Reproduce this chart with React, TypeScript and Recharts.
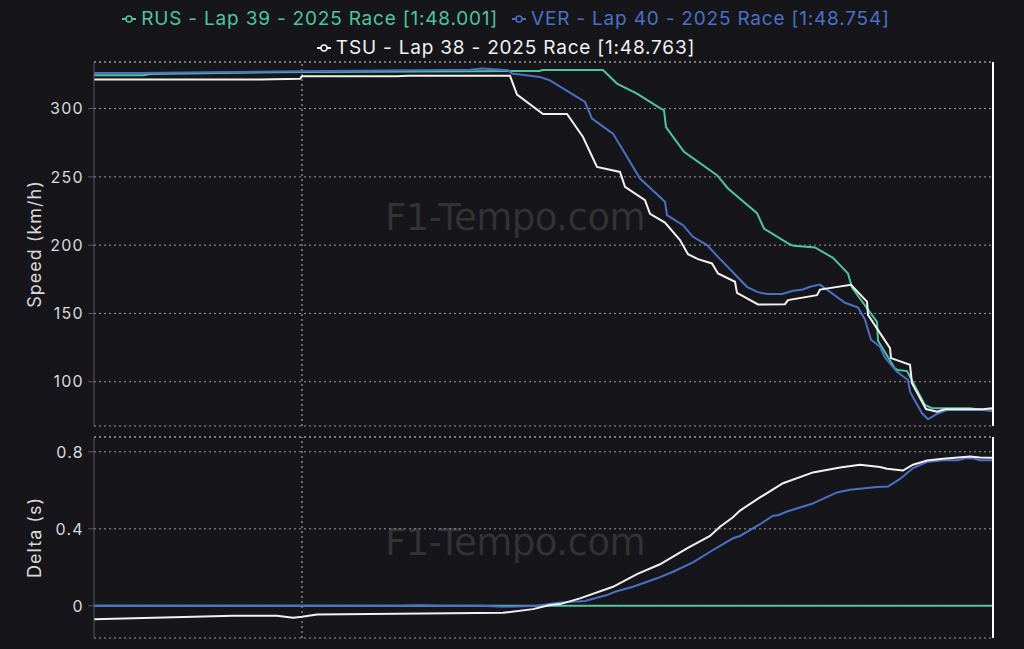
import { LineChart, Line, XAxis, YAxis, CartesianGrid, ReferenceLine } from "recharts";

const BG = "#16161a";
const GRID = "#9a9a9a";
const AXIS = "#56565a";
const TEXT = "#d9d9d9";

const RUS_COLOR = "#4fc49e";
const VER_COLOR = "#4a70c8";
const TSU_COLOR = "#f2f2f2";

// distance in metres along this section
const END_DIST = 899;
const MARKER_DIST = 208;

const rusDist = [0, 49, 56, 206, 386, 446, 448, 509, 523, 543, 566, 570, 572, 590, 623, 634, 663, 670, 696, 700, 721, 739, 746, 754, 758, 783, 784, 801, 804, 813, 831, 838, 876, 889, 899];
const rusSpeed = [324.4, 324.4, 325.3, 326.8, 327.4, 327.5, 328.2, 328.2, 318.3, 311, 300.4, 298.8, 286.5, 268.3, 251.2, 241.5, 223.4, 212.2, 200.5, 199.5, 198.3, 190.7, 185.4, 179.3, 168.9, 143.9, 130, 109.5, 108.6, 107.8, 83, 80.6, 80.6, 79.3, 78.8];

const verDist = [0, 46, 206, 376, 388, 414, 418, 446, 456, 491, 498, 519, 528, 546, 571, 573, 589, 599, 613, 624, 653, 663, 673, 688, 699, 709, 716, 726, 738, 751, 764, 771, 777, 786, 791, 803, 814, 816, 828, 834, 843, 853, 899];
const verSpeed = [326, 326, 327.3, 328.5, 329.3, 328, 325.6, 323.1, 320.7, 304.8, 292.7, 281.7, 270.7, 248.8, 231.7, 222, 214.6, 206.1, 200, 191.4, 169.5, 165.8, 164.2, 164.2, 166.6, 167.6, 169.5, 171.1, 164.7, 157.8, 154.3, 145.5, 130.8, 125.6, 117.6, 107.3, 101.3, 92.7, 76.9, 72.5, 76.5, 79.3, 79.3];

const tsuDist = [0, 166, 206, 208, 303, 314, 416, 423, 449, 473, 489, 503, 526, 531, 551, 556, 571, 586, 594, 604, 618, 624, 641, 643, 664, 691, 694, 723, 726, 757, 773, 774, 796, 797, 816, 818, 832, 843, 851, 889, 898];
const tsuSpeed = [321.2, 321.2, 321.9, 323.6, 323.6, 324.1, 324, 310.2, 296, 296, 279.2, 257.3, 253.6, 242.7, 232.9, 223, 216.5, 203.7, 193.4, 189.8, 186.6, 179.3, 173.2, 165.1, 156.6, 156.8, 159.8, 163.4, 167.5, 171, 158.7, 149, 124.6, 117.3, 112.4, 99, 80, 78.1, 79.8, 79.8, 80.6];

const rusDeltaDist = [0, 899];
const rusDelta = [0, 0];

const verDeltaDist = [0, 206, 306, 326, 346, 386, 409, 443, 466, 491, 513, 521, 539, 563, 579, 599, 619, 639, 646, 666, 679, 684, 693, 718, 743, 756, 783, 794, 806, 819, 833, 849, 864, 871, 879, 886, 899];
const verDelta = [0, 0, 0, 0.003, 0, 0, -0.005, 0, 0.018, 0.025, 0.056, 0.073, 0.099, 0.143, 0.177, 0.226, 0.29, 0.351, 0.363, 0.424, 0.468, 0.471, 0.49, 0.53, 0.589, 0.603, 0.617, 0.62, 0.659, 0.716, 0.747, 0.756, 0.756, 0.766, 0.766, 0.756, 0.756];

const tsuDeltaDist = [0, 139, 183, 199, 208, 223, 329, 409, 439, 456, 466, 486, 519, 543, 566, 593, 616, 626, 639, 646, 666, 689, 719, 746, 766, 786, 793, 809, 819, 833, 849, 876, 886, 899];
const tsuDelta = [-0.069, -0.052, -0.052, -0.062, -0.057, -0.045, -0.04, -0.036, -0.017, 0.004, 0.009, 0.039, 0.099, 0.165, 0.216, 0.299, 0.363, 0.411, 0.46, 0.495, 0.563, 0.637, 0.693, 0.719, 0.733, 0.721, 0.712, 0.703, 0.733, 0.755, 0.764, 0.776, 0.771, 0.769];

const speedTicks = [100, 150, 200, 250, 300];
const speedDomain = [67.6, 334.1];
const deltaTicks = [0, 0.4, 0.8];
const deltaDomain = [-0.167, 0.877];

const drivers = [
  { name: "RUS - Lap 39 - 2025 Race [1:48.001]", color: RUS_COLOR },
  { name: "VER - Lap 40 - 2025 Race [1:48.754]", color: VER_COLOR },
  { name: "TSU - Lap 38 - 2025 Race [1:48.763]", color: TSU_COLOR },
];

const zip = (xs: number[], ys: number[], key: string) => xs.map((d, i) => ({ dist: d, [key]: ys[i] }));

const speedSeries = [
  { id: "RUS", color: RUS_COLOR, data: zip(rusDist, rusSpeed, "speed") },
  { id: "VER", color: VER_COLOR, data: zip(verDist, verSpeed, "speed") },
  { id: "TSU", color: TSU_COLOR, data: zip(tsuDist, tsuSpeed, "speed") },
];

const deltaSeries = [
  { id: "RUS", color: RUS_COLOR, data: zip(rusDeltaDist, rusDelta, "delta") },
  { id: "VER", color: VER_COLOR, data: zip(verDeltaDist, verDelta, "delta") },
  { id: "TSU", color: TSU_COLOR, data: zip(tsuDeltaDist, tsuDelta, "delta") },
];

function LegendIcon({ color }: { color: string }) {
  return (
    <svg width={14} height={14} style={{ marginRight: 5 }}>
      <line x1={0} y1={7} x2={14} y2={7} stroke={color} strokeWidth={2} />
      <circle cx={7} cy={7} r={3} fill={BG} stroke={color} strokeWidth={1.5} />
    </svg>
  );
}

function Watermark({ top }: { top: number }) {
  return (
    <div
      style={{
        position: "absolute",
        left: 365,
        top,
        width: 300,
        textAlign: "center",
        whiteSpace: "nowrap",
        fontSize: 37,
        fontFamily: "'DejaVu Sans', sans-serif",
        color: "rgba(255,255,255,0.12)",
        letterSpacing: -0.5,
      }}
    >
      F1-Tempo.com
    </div>
  );
}

const gridProps = { stroke: GRID, strokeDasharray: "2 3", strokeWidth: 1 };

export default function App() {
  return (
    <div
      style={{
        position: "absolute",
        left: 0,
        top: 0,
        width: 1024,
        height: 649,
        background: BG,
        fontFamily: "Inter, sans-serif",
        overflow: "hidden",
      }}
    >
      <div
        style={{
          position: "absolute",
          left: 106,
          top: 8,
          width: 800,
          display: "flex",
          flexWrap: "wrap",
          justifyContent: "center",
          rowGap: 7,
          columnGap: 14,
          fontSize: 19,
          letterSpacing: 0.8,
          lineHeight: "22px",
        }}
      >
        {drivers.map((d) => (
          <div key={d.name} style={{ display: "flex", alignItems: "center", color: d.color }}>
            <LegendIcon color={d.color} />
            {d.name}
          </div>
        ))}
      </div>

      <Watermark top={196} />
      <Watermark top={521} />

      <div style={{ position: "absolute", left: 0, top: 0 }}>
        <LineChart width={1024} height={430} margin={{ top: 62, right: 31, bottom: 4, left: 0 }}>
          <CartesianGrid vertical={false} {...gridProps} />
          <XAxis type="number" dataKey="dist" domain={[0, END_DIST]} tick={false} tickLine={false} height={0} axisLine={{ stroke: AXIS }} allowDataOverflow />
          <YAxis
            type="number"
            domain={speedDomain}
            ticks={speedTicks}
            allowDataOverflow
            width={94}
            tickSize={6}
            tickMargin={4}
            tick={{ fill: TEXT, fontSize: 16, letterSpacing: 1.3 }}
            tickLine={{ stroke: AXIS }}
            axisLine={{ stroke: AXIS }}
            label={{ value: "Speed (km/h)", angle: -90, position: "center", dx: -12, fill: TEXT, fontSize: 18, letterSpacing: 1 }}
          />
          <ReferenceLine y={speedDomain[1]} {...gridProps} />
          <ReferenceLine x={MARKER_DIST} stroke="#bdbdbd" strokeDasharray="2 3" />
          {speedSeries.map((s) => (
            <Line key={s.id} data={s.data} dataKey="speed" type="linear" stroke={s.color} strokeWidth={2} dot={false} isAnimationActive={false} />
          ))}
          <ReferenceLine x={END_DIST} stroke="#ffffff" strokeWidth={2} />
        </LineChart>
      </div>

      <div style={{ position: "absolute", left: 0, top: 430 }}>
        <LineChart width={1024} height={219} margin={{ top: 7, right: 31, bottom: 11, left: 0 }}>
          <CartesianGrid vertical={false} {...gridProps} />
          <XAxis type="number" dataKey="dist" domain={[0, END_DIST]} tick={false} tickLine={false} height={0} axisLine={{ stroke: AXIS }} allowDataOverflow />
          <YAxis
            type="number"
            domain={deltaDomain}
            ticks={deltaTicks}
            allowDataOverflow
            width={94}
            tickSize={6}
            tickMargin={4}
            tick={{ fill: TEXT, fontSize: 16, letterSpacing: 1.3 }}
            tickLine={{ stroke: AXIS }}
            axisLine={{ stroke: AXIS }}
            label={{ value: "Delta (s)", angle: -90, position: "center", dx: -12, fill: TEXT, fontSize: 18, letterSpacing: 1 }}
          />
          <ReferenceLine y={deltaDomain[1]} {...gridProps} />
          <ReferenceLine x={MARKER_DIST} stroke="#bdbdbd" strokeDasharray="2 3" />
          {deltaSeries.map((s) => (
            <Line key={s.id} data={s.data} dataKey="delta" type="linear" stroke={s.color} strokeWidth={2} dot={false} isAnimationActive={false} />
          ))}
          <ReferenceLine x={END_DIST} stroke="#ffffff" strokeWidth={2} />
        </LineChart>
      </div>
    </div>
  );
}
